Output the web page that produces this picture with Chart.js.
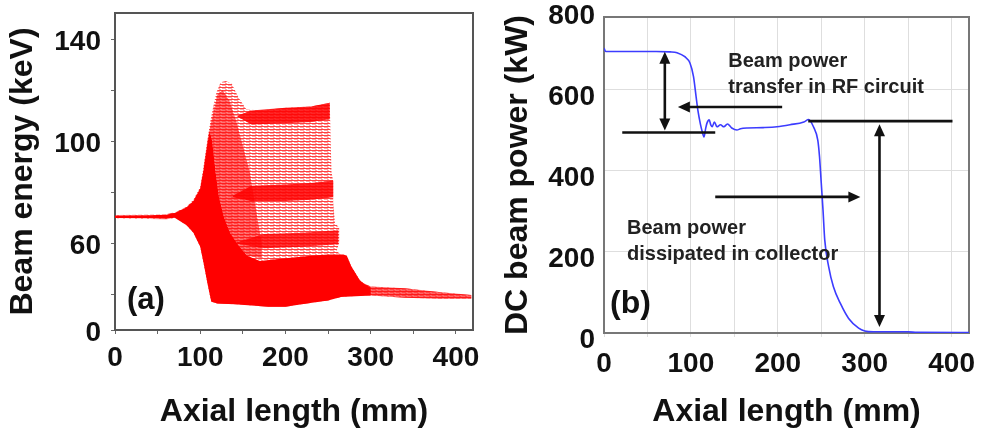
<!DOCTYPE html>
<html>
<head>
<meta charset="utf-8">
<script src="https://cdn.jsdelivr.net/npm/chart.js@4.4.1/dist/chart.umd.min.js"></script>
<style>
  html, body { margin: 0; padding: 0; background: #fff; }
  .panel { position: absolute; top: 0; height: 436px; }
  #panelA { left: 0; width: 490px; }
  #panelB { left: 490px; width: 492px; }
</style>
</head>
<body>
<div class="panel" id="panelA"><canvas id="energyChart"></canvas></div>
<div class="panel" id="panelB"><canvas id="powerChart"></canvas></div>
<script>
// ---- (a) beam energy spread, outlines as [axial mm, keV] ----
const cloudTop = [
  [0, 71], [60, 71.3], [72, 72.3], [84, 74.2], [92, 77], [100, 82], [104, 90], [108, 99.5],
  [112, 108], [115, 113], [119, 119], [124, 123], [130, 123.5], [137, 122.5], [145, 117],
  [154, 112.5], [170, 112], [200, 113], [230, 113.5], [252, 115], [253, 100], [254, 88],
  [256, 84], [256, 76], [258, 68], [263, 66], [263, 60], [260, 57], [266, 55], [272, 55],
  [277, 51], [287, 45.5], [292, 44], [300, 43], [340, 42.3], [380, 40.8], [418, 39.6]
];
const cloudBottom = [
  [0, 69.6], [60, 69.3], [72, 69.7], [84, 67], [92, 64], [100, 58.5], [104, 52], [108, 45],
  [111, 40], [113, 37], [120, 36.3], [140, 36], [180, 35], [200, 35], [225, 36.3], [250, 37.5],
  [265, 38.8], [295, 39.5], [340, 38.5], [380, 38.2], [418, 38.2]
];
// dense part: injected beam, bunching region and the spent-beam block underneath
const coreTop = [
  [0, 70.8], [40, 70.9], [60, 71.1], [70, 71.8], [84, 74], [92, 76.5], [100, 81.5], [104, 89],
  [108, 98], [111, 104], [114, 100], [118, 88], [122, 78], [128, 70], [135, 64], [145, 59],
  [155, 55], [170, 53], [200, 54], [230, 55], [250, 55.5], [268, 55.5], [272, 55], [277, 51],
  [287, 45.5], [292, 44], [300, 42.5]
];
const coreBottom = [
  [0, 69.8], [40, 69.7], [60, 69.5], [70, 69.9], [84, 67], [92, 64], [100, 58.5], [104, 52],
  [108, 45], [111, 40], [113, 37], [120, 36.3], [140, 36], [180, 35], [200, 35], [225, 36.3],
  [250, 37.5], [265, 38.8], [300, 39.4]
];
// partly filled zone above the bunching region
const bunchTop = [
  [104, 90], [110, 103], [116, 112], [120, 118], [126, 120], [134, 116], [142, 108],
  [150, 98], [158, 88], [166, 72], [172, 60]
];
const bunchBottom = [
  [104, 89], [108, 98], [111, 104], [114, 100], [118, 88], [122, 78], [128, 70], [135, 64],
  [145, 59], [155, 55], [172, 54]
];
const tailTop = [[287, 45], [300, 43], [340, 42.3], [380, 40.8], [418, 39.6]];
const tailBottom = [[287, 39.5], [300, 39.4], [340, 38.5], [380, 38.2], [418, 38.2]];
const bandHighTop = [[144, 110], [160, 112], [200, 113], [230, 113.5], [252, 115]];
const bandHighBottom = [[144, 109.5], [160, 106.5], [200, 107], [230, 107.5], [252, 108.5]];
const bandMidTop = [[138, 78.5], [160, 82.5], [200, 83], [230, 83.5], [256, 84.5]];
const bandMidBottom = [[138, 78], [160, 76.5], [200, 76.5], [230, 77], [256, 78]];
const bandLowTop = [[142, 60.2], [175, 63.5], [220, 64], [262, 65]];
const bandLowBottom = [[142, 59.8], [175, 58], [220, 58.5], [262, 59.5]];

const axialTicks = [0, 50, 100, 150, 200, 250, 300, 350, 400];
const energyTicks = [25.9, 40, 60, 80, 100, 120, 140];
const energyTickLabels = ['0', '', '60', '', '100', '', '140'];

// ---- (b) DC beam power along the tube, [axial mm, kW] ----
const powerCurve = [
  [0, 703], [2, 695], [20, 695], [60, 695], [76, 694], [84, 692], [93, 682], [99, 666],
  [103, 633], [106, 583], [108, 550], [111, 515], [113, 497], [115, 484], [117, 505],
  [118.5, 518], [121, 526], [123, 513], [124.5, 509], [127, 521], [130, 509], [134, 514],
  [138, 509], [142, 516], [147, 506], [153, 501], [157, 504], [165, 506], [183, 507],
  [199, 509], [214, 514], [230, 521], [235.5, 527], [241, 509], [246, 476], [248, 435],
  [250, 370], [252, 304], [254, 230], [258.5, 164], [264, 114], [272, 73], [281.5, 36],
  [293, 12], [300, 5], [310, 3], [350, 3], [360, 1.5], [420, 1]
];
const powerTicks = [0, 200, 400, 600, 800];

const pts = arr => arr.map(([x, y]) => ({ x, y }));
const outline = (top, bottom) => pts(top.concat(bottom.slice().reverse()));

Chart.defaults.font.family = "'Liberation Sans', Arial, sans-serif";
Chart.defaults.color = '#111';

const tickFont = { size: 28, weight: 'bold' };
const titleFont = { size: 32, weight: 'bold' };

// streaky fill for the sparse trajectories
function trajectoryPattern() {
  const c = document.createElement('canvas');
  c.width = 6; c.height = 3;
  const g = c.getContext('2d');
  g.fillStyle = 'rgba(255,0,0,0.75)';
  g.fillRect(0, 0, 6, 1);
  g.fillStyle = 'rgba(255,0,0,0.35)';
  g.fillRect(0, 1, 4, 1);
  g.fillRect(3, 2, 2, 1);
  return g.createPattern(c, 'repeat');
}

// box around the plot area
const framePlugin = {
  id: 'frame',
  beforeDatasetsDraw(chart, args, opts) {
    const { ctx, chartArea: a } = chart;
    ctx.save();
    ctx.strokeStyle = opts.color;
    ctx.lineWidth = opts.width;
    ctx.strokeRect(a.left, a.top, a.right - a.left, a.bottom - a.top);
    ctx.restore();
  }
};

// arrows, guide lines and text placed in data units
const notesPlugin = {
  id: 'notes',
  afterDatasetsDraw(chart, args, opts) {
    const { ctx, scales: { x, y } } = chart;
    ctx.save();
    ctx.strokeStyle = '#111';
    ctx.fillStyle = '#111';
    ctx.lineWidth = 2.6;
    const head = (px, py, dx, dy) => {
      const len = Math.hypot(dx, dy), ux = dx / len, uy = dy / len;
      ctx.beginPath();
      ctx.moveTo(px, py);
      ctx.lineTo(px - ux * 12 - uy * 5.5, py - uy * 12 + ux * 5.5);
      ctx.lineTo(px - ux * 12 + uy * 5.5, py - uy * 12 - ux * 5.5);
      ctx.closePath();
      ctx.fill();
    };
    for (const s of opts.lines || []) {
      const x1 = x.getPixelForValue(s.from[0]), y1 = y.getPixelForValue(s.from[1]);
      const x2 = x.getPixelForValue(s.to[0]), y2 = y.getPixelForValue(s.to[1]);
      const dx = x2 - x1, dy = y2 - y1, len = Math.hypot(dx, dy);
      const trimEnd = s.heads === 'end' || s.heads === 'both' ? 10 : 0;
      const trimStart = s.heads === 'both' ? 10 : 0;
      ctx.beginPath();
      ctx.moveTo(x1 + dx / len * trimStart, y1 + dy / len * trimStart);
      ctx.lineTo(x2 - dx / len * trimEnd, y2 - dy / len * trimEnd);
      ctx.stroke();
      if (trimEnd) head(x2, y2, dx, dy);
      if (trimStart) head(x1, y1, -dx, -dy);
    }
    ctx.textBaseline = 'middle';
    ctx.textAlign = 'left';
    for (const t of opts.texts || []) {
      ctx.font = t.font;
      ctx.fillStyle = t.color || '#111';
      ctx.fillText(t.text, x.getPixelForValue(t.at[0]), y.getPixelForValue(t.at[1]));
    }
    ctx.restore();
  }
};

// keep the plot area where the layout padding puts it (no room added for edge labels)
const noEdgePadX = s => { s.paddingLeft = 0; s.paddingRight = 0; };
const noEdgePadY = s => { s.paddingTop = 0; s.paddingBottom = 0; };

const baseOptions = {
  responsive: true,
  maintainAspectRatio: false,
  animation: false,
  events: [],
  plugins: { legend: { display: false }, tooltip: { enabled: false } }
};

const energyChart = new Chart(document.getElementById('energyChart'), {
  type: 'scatter',
  data: {
    datasets: [
      { data: outline(bandHighTop, bandHighBottom), backgroundColor: 'rgba(255,0,0,0.85)', order: 1 },
      { data: outline(bandMidTop, bandMidBottom), backgroundColor: 'rgba(255,0,0,0.85)', order: 1 },
      { data: outline(bandLowTop, bandLowBottom), backgroundColor: 'rgba(255,0,0,0.8)', order: 1 },
      { data: outline(coreTop, coreBottom), backgroundColor: '#ff0000', order: 2 },
      { data: outline(bunchTop, bunchBottom), backgroundColor: 'rgba(255,0,0,0.55)', order: 2 },
      { data: outline(tailTop, tailBottom), backgroundColor: 'rgba(255,0,0,0.6)', order: 2 },
      { data: outline(cloudTop, cloudBottom), backgroundColor: trajectoryPattern(), order: 3 }
    ].map(d => Object.assign({
      showLine: true, fill: 'shape', borderWidth: 0, borderColor: 'rgba(0,0,0,0)', pointRadius: 0
    }, d))
  },
  options: Object.assign({}, baseOptions, {
    layout: { padding: { top: 13, right: 17, left: 0, bottom: 0 } },
    scales: {
      x: {
        type: 'linear', min: 0, max: 420,
        afterBuildTicks: s => { s.ticks = axialTicks.map(value => ({ value })); },
        afterFit: s => { s.height = 106; noEdgePadX(s); },
        grid: { drawOnChartArea: false, drawTicks: true, tickLength: 4, color: '#666' },
        border: { color: '#555', width: 2 },
        ticks: { font: tickFont, color: '#111', padding: 7, maxRotation: 0, autoSkip: false,
          callback: v => (v % 100 === 0 ? v : '') },
        title: { display: true, text: 'Axial length (mm)', font: titleFont, color: '#111', padding: { top: 0, bottom: 5 } }
      },
      y: {
        type: 'linear', min: 25.9, max: 150.2,
        afterBuildTicks: s => { s.ticks = energyTicks.map(value => ({ value })); },
        afterFit: s => { s.width = 115; noEdgePadY(s); },
        grid: { drawOnChartArea: false, drawTicks: true, tickLength: 4, color: '#666' },
        border: { color: '#555', width: 2 },
        ticks: { font: tickFont, color: '#111', padding: 10, labelOffset: 3, autoSkip: false,
          callback: (v, i) => energyTickLabels[i] },
        title: { display: true, text: 'Beam energy (keV)', font: titleFont, color: '#111', padding: { top: 4, bottom: 0 } }
      }
    },
    plugins: Object.assign({}, baseOptions.plugins, {
      frame: { color: '#555', width: 2 },
      notes: { texts: [{ text: '(a)', at: [14, 37.3], font: "bold 31px 'Liberation Sans', Arial, sans-serif" }] }
    })
  }),
  plugins: [framePlugin, notesPlugin]
});

const noteFont = "bold 20px 'Liberation Sans', Arial, sans-serif";
const powerChart = new Chart(document.getElementById('powerChart'), {
  type: 'line',
  data: {
    datasets: [{
      data: pts(powerCurve),
      borderColor: '#3c3cff',
      borderWidth: 1.6,
      pointRadius: 0,
      cubicInterpolationMode: 'monotone',
      fill: false
    }]
  },
  options: Object.assign({}, baseOptions, {
    layout: { padding: { top: 17, right: 13, left: 0, bottom: 0 } },
    scales: {
      x: {
        type: 'linear', min: 0, max: 420,
        afterBuildTicks: s => { s.ticks = axialTicks.map(value => ({ value })); },
        afterFit: s => { s.height = 103; noEdgePadX(s); },
        grid: { color: '#dedede', lineWidth: 1, drawTicks: true, tickLength: 4 },
        border: { color: '#666', width: 2 },
        ticks: { font: tickFont, color: '#111', padding: 10, maxRotation: 0, autoSkip: false,
          callback: v => (v % 100 === 0 ? v : '') },
        title: { display: true, text: 'Axial length (mm)', font: titleFont, color: '#111', padding: { top: 0, bottom: 5 } }
      },
      y: {
        type: 'linear', min: 0, max: 780,
        afterBuildTicks: s => { s.ticks = powerTicks.map(value => ({ value })); },
        afterFit: s => { s.width = 114; noEdgePadY(s); },
        grid: { color: ctx => (ctx.tick && ctx.tick.value > 780 ? 'rgba(0,0,0,0)' : '#dedede'), lineWidth: 1, drawTicks: false },
        border: { color: '#666', width: 2 },
        ticks: { font: tickFont, color: '#111', padding: 9, labelOffset: 7, autoSkip: false },
        title: { display: true, text: 'DC beam power (kW)', font: titleFont, color: '#111', padding: { top: 9, bottom: 0 } }
      }
    },
    plugins: Object.assign({}, baseOptions.plugins, {
      frame: { color: '#777', width: 2 },
      notes: {
        lines: [
          { from: [70, 694], to: [70, 500], heads: 'both' },
          { from: [21, 495], to: [128, 495], heads: 'none' },
          { from: [205, 558], to: [85, 558], heads: 'end' },
          { from: [235, 523], to: [401, 523], heads: 'none' },
          { from: [317, 515], to: [317, 15], heads: 'both' },
          { from: [128, 336], to: [295, 336], heads: 'end' }
        ],
        texts: [
          { text: 'Beam power', at: [143, 669], font: noteFont, color: '#222' },
          { text: 'transfer in RF circuit', at: [143, 607], font: noteFont, color: '#222' },
          { text: 'Beam power', at: [26.5, 257], font: noteFont, color: '#222' },
          { text: 'dissipated in collector', at: [26.5, 193], font: noteFont, color: '#222' },
          { text: '(b)', at: [7, 72], font: "bold 32px 'Liberation Sans', Arial, sans-serif" }
        ]
      }
    })
  }),
  plugins: [framePlugin, notesPlugin]
});
</script>
</body>
</html>
